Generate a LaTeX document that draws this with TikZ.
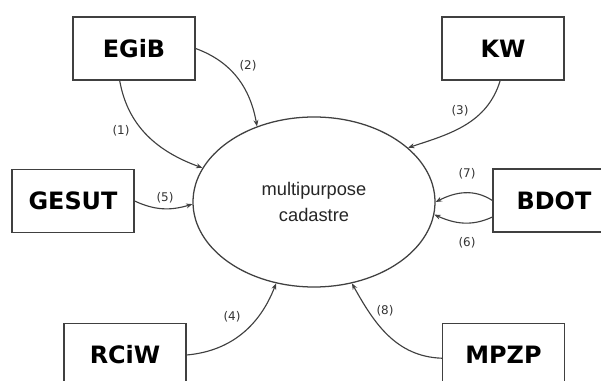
\documentclass[tikz,border=0pt]{standalone}
\usepackage{fontspec}
\setmainfont{Liberation Sans}
\newfontfamily\boxfont{DejaVu Sans}
\usetikzlibrary{shapes.geometric,arrows.meta}

\tikzset{
  srcbox/.style={draw=black!75, line width=0.9pt, minimum width=3.05cm,
    minimum height=1.575cm, inner sep=0pt,
    font=\boxfont\bfseries\fontsize{17}{20}\selectfont},
  numlabel/.style={font=\boxfont\fontsize{8.5}{10}\selectfont, text=black!80},
  flow/.style={draw=black!75, line width=0.8pt,
    -{Stealth[length=4.5pt,width=3.5pt]}}
}

\begin{document}
\begin{tikzpicture}
    \useasboundingbox (0,0) rectangle (15.025,9.525);
    \clip (0,0) rectangle (15.025,9.525);
    \fill[white] (0,0) rectangle (15.025,9.525);

    % cadastre in the middle
    \node[draw=black!75, line width=0.9pt, ellipse, minimum width=6.05cm,
      minimum height=4.25cm, inner sep=0pt, align=center, text=black!85,
      font=\fontsize{13}{19}\selectfont] (cad) at (7.85,4.475) {multipurpose\\cadastre};

    % registers round it
    \node[srcbox] (egib) at (3.35,8.3125) {EGiB};
    \node[srcbox] (kw) at (12.575,8.3125) {KW};
    \node[srcbox] (gesut) at (1.825,4.5) {GESUT};
    \node[srcbox] (bdot) at (13.85,4.5125) {BDOT};
    \node[srcbox] (rciw) at (3.125,0.65) {RCiW};
    \node[srcbox] (mpzp) at (12.5875,0.65) {MPZP};

    % flows into the cadastre
    \draw[flow] (egib.-114) to[out=-80,in=160] (cad.163);
    \draw[flow] (egib.east) to[out=-20,in=100] (cad.127);
    \draw[flow] (kw.-95) to[out=-107,in=18] (cad.30);
    \draw[flow] (gesut.east) to[out=-25,in=-163] (cad.181);
    \draw[flow] (bdot.west) to[out=147,in=27] (cad.0);
    \draw[flow] (bdot.195) to[out=-155,in=-24] (cad.-6);
    \draw[flow] (rciw.east) to[out=5,in=-111] (cad.-115);
    \draw[flow] (mpzp.183) to[out=178,in=-61] (cad.-65);

    \node[numlabel] (n1) at (3.025,6.25) {(1)};
    \node[numlabel] (n2) at (6.2,7.875) {(2)};
    \node[numlabel] (n3) at (11.5,6.75) {(3)};
    \node[numlabel] (n4) at (5.8,1.6) {(4)};
    \node[numlabel] (n5) at (4.125,4.575) {(5)};
    \node[numlabel] (n6) at (11.675,3.45) {(6)};
    \node[numlabel] (n7) at (11.675,5.175) {(7)};
    \node[numlabel] (n8) at (9.625,1.75) {(8)};
\end{tikzpicture}
\end{document}
